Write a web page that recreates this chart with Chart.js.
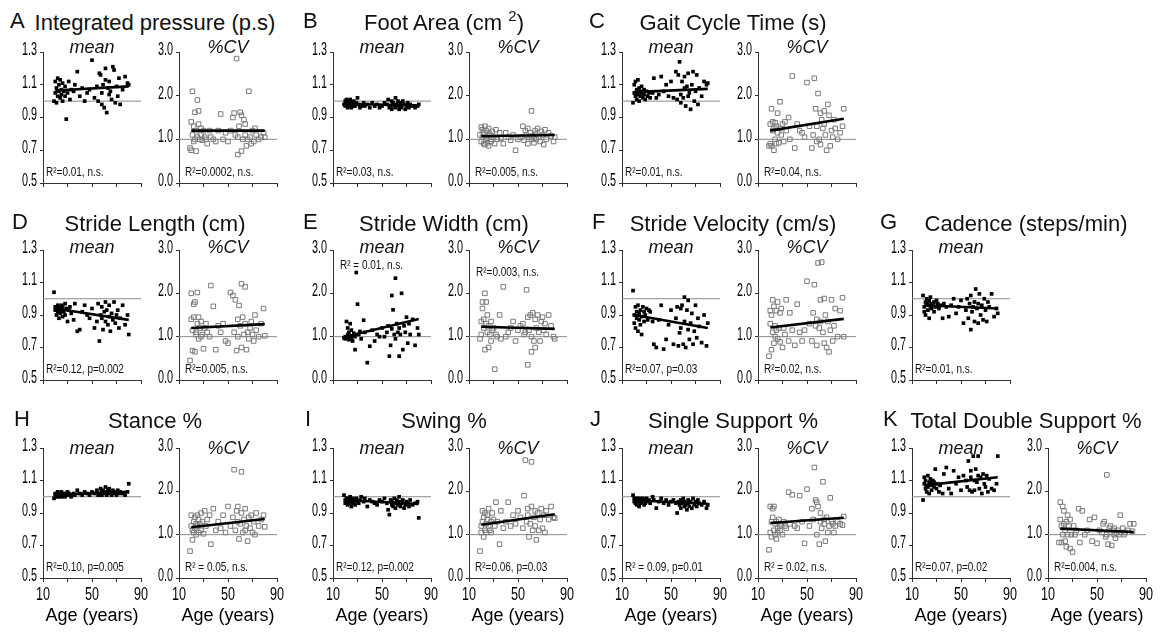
<!DOCTYPE html>
<html><head><meta charset="utf-8">
<script src="https://cdn.jsdelivr.net/npm/chart.js@4.4.1/dist/chart.umd.min.js"></script>
<style>
html,body{margin:0;padding:0;background:#fff;}
#fig{position:relative;width:1167px;height:635px;overflow:hidden;font-family:'Liberation Sans',Arial,sans-serif;color:#111;}
canvas{position:absolute;}
.t{position:absolute;white-space:nowrap;line-height:1;}
.n{transform:scaleX(0.8);transform-origin:0 0;}
sup{line-height:0;font-size:15px;vertical-align:9px;}
</style></head><body><div id="fig"></div>
<script>
// ---------------- DATA ----------------
const ages = [19,20,20,21,21,22,22,23,23,24,24,25,25,26,26,27,28,28,29,30,31,32,33,
  35,36,38,40,42,44,46,48,50,52,
  54,55,56,57,58,58,59,60,61,61,62,63,64,64,65,66,67,68,69,70,71,72,73,75,77,79,80];

const meanA = [1.00,1.05,1.12,0.99,1.08,1.14,1.03,1.10,1.06,1.13,1.02,1.07,1.04,1.11,1.00,1.06,1.03,1.09,0.89,1.05,1.12,1.01,1.07,
  1.06,1.10,1.18,1.03,1.08,1.00,1.05,1.07,1.25,1.02,
  1.09,1.00,1.17,1.16,0.98,1.05,1.10,0.96,1.13,1.20,0.93,1.08,1.04,1.12,1.06,1.01,1.21,1.19,0.99,1.09,1.03,1.14,0.98,1.07,1.15,1.11,1.10];
const cvA = [0.80,1.40,0.75,1.10,2.10,0.95,1.30,1.00,1.62,1.20,0.73,1.05,1.90,1.35,1.65,1.00,1.25,1.10,0.98,1.20,1.05,1.00,0.90,
  1.20,1.05,1.00,0.95,1.20,1.58,1.00,1.15,0.95,1.20,
  1.50,1.60,1.10,2.85,1.05,0.65,1.30,1.62,0.73,1.55,1.00,1.45,1.10,1.35,0.85,1.00,2.10,1.05,0.90,1.20,0.95,1.25,1.10,1.00,1.05,1.15,1.05];

const meanB = [0.98,1.00,0.97,1.01,0.99,0.96,0.98,1.00,0.97,0.99,1.01,0.98,0.96,0.99,0.97,1.00,0.98,0.97,0.99,1.02,0.98,0.96,0.97,
  0.99,0.97,0.98,0.96,0.99,0.97,0.98,0.96,0.97,0.99,
  0.98,1.01,0.96,0.97,1.00,0.95,0.99,0.97,1.02,0.96,0.98,1.00,0.95,0.97,0.99,0.96,1.00,0.98,0.95,0.97,0.99,0.96,0.98,0.97,0.96,0.97,0.98];
const cvB = [1.10,1.28,0.95,1.22,1.05,0.90,1.15,1.30,0.88,1.00,1.20,0.92,1.08,1.25,0.85,1.12,1.00,0.95,1.18,1.05,0.90,1.22,1.00,
  1.15,1.02,0.90,1.15,1.05,0.98,1.10,0.75,1.00,1.05,
  1.30,0.98,1.20,1.10,0.90,1.25,1.05,1.15,1.00,1.65,1.08,0.92,1.20,1.12,1.00,1.25,1.05,0.95,1.18,1.10,0.88,1.22,1.00,1.15,1.08,0.95,1.05];

const meanC = [0.99,1.05,1.10,1.03,1.12,1.07,1.01,1.13,1.04,1.08,1.00,1.06,1.03,1.09,1.05,1.02,1.07,1.04,1.01,1.06,1.03,1.05,1.02,
  1.05,1.14,1.02,1.04,1.15,1.06,1.10,1.03,1.12,1.02,
  1.18,1.01,1.16,1.24,1.04,0.99,1.12,1.02,1.08,1.15,0.97,1.09,1.03,1.17,1.05,0.95,1.10,1.18,1.00,1.06,1.16,0.98,1.08,1.03,1.12,1.10,1.11];
const cvC = [0.85,1.35,0.90,1.70,0.85,1.20,1.40,0.75,1.25,1.00,1.38,0.90,1.30,1.15,1.60,0.92,1.25,1.86,1.10,1.35,0.95,1.40,1.20,
  1.50,1.00,2.45,0.80,1.35,1.20,1.15,1.05,2.30,1.30,
  0.80,1.10,2.40,1.70,0.95,1.30,2.05,1.00,1.60,0.88,1.45,1.25,1.65,1.35,1.10,0.75,1.80,1.55,0.85,1.20,1.05,1.45,1.25,1.00,1.15,1.30,1.70];

const meanD = [1.04,0.93,0.95,0.90,0.94,0.96,0.92,0.88,0.95,0.93,0.91,0.96,0.94,0.89,0.95,0.92,0.97,0.90,0.94,0.86,0.93,0.95,0.91,
  0.87,0.97,0.80,0.81,0.92,0.96,0.90,0.88,0.94,0.82,
  0.86,0.97,0.74,0.90,0.88,0.95,0.81,0.92,0.98,0.86,0.93,0.84,0.89,0.96,0.80,0.91,0.87,0.98,0.85,0.90,0.93,0.82,0.88,0.96,0.84,0.90,0.78];
const cvD = [0.45,1.40,2.00,0.68,1.15,1.75,1.45,0.65,1.80,1.10,1.05,2.02,1.30,0.95,1.45,1.20,1.00,1.35,1.05,0.72,1.20,1.30,1.10,
  1.00,2.18,1.70,0.70,1.25,1.10,1.30,0.90,0.85,2.02,
  1.95,1.10,1.85,0.68,1.40,1.00,1.72,1.25,2.22,0.75,1.45,1.05,2.15,1.30,0.70,1.10,0.95,1.20,1.35,1.05,0.90,1.50,1.15,1.00,1.30,1.65,1.02];

const meanE = [0.97,1.00,0.95,1.35,0.98,1.05,1.20,0.93,1.10,1.00,1.30,0.96,1.15,1.02,0.90,1.08,1.00,0.70,2.48,1.75,1.05,1.12,0.95,
  1.38,1.10,0.40,0.78,1.15,0.90,1.05,1.00,1.20,1.00,
  1.10,1.25,0.55,0.80,1.18,1.95,1.62,1.05,2.35,0.95,1.30,1.10,0.55,1.20,1.05,2.00,0.70,1.25,1.10,1.45,0.85,1.30,1.05,1.40,0.80,1.20,1.05];
const cvE = [0.95,1.35,1.05,1.65,1.80,1.20,1.40,2.00,0.70,1.30,1.80,1.10,1.50,0.75,1.25,1.05,1.35,0.90,1.15,1.20,0.25,1.05,1.00,
  1.50,0.95,2.15,1.00,1.10,1.20,1.35,0.90,1.15,1.25,
  1.30,1.05,1.10,2.08,0.35,1.45,1.15,1.50,0.65,1.00,1.55,0.90,1.40,0.75,1.20,1.50,1.10,0.90,1.35,1.45,1.15,1.30,1.05,1.50,1.25,1.00,0.95];

const meanF = [1.05,0.90,0.85,0.95,0.82,0.92,0.88,0.80,0.96,0.87,0.91,0.84,0.93,0.78,0.89,0.95,0.86,0.92,0.90,0.94,0.87,0.93,0.92,
  0.86,0.72,0.70,0.87,0.96,0.69,0.75,0.84,0.93,0.72,
  0.88,0.95,0.71,0.79,0.94,0.82,0.96,0.72,0.86,1.01,0.70,0.93,0.81,0.99,0.75,0.85,0.91,0.72,0.80,0.96,0.76,0.88,0.83,0.73,0.90,0.71,0.85];
const cvF = [0.55,1.30,1.60,0.70,1.50,1.85,1.10,0.85,1.70,1.25,1.00,1.60,1.15,1.80,0.95,1.20,1.55,0.88,1.65,0.75,1.20,1.05,1.85,
  0.90,1.55,1.15,0.80,1.75,1.10,0.90,1.15,2.28,1.30,
  0.90,1.55,2.20,1.25,0.80,1.40,2.70,1.20,1.85,1.35,2.72,1.10,0.85,1.88,1.50,0.75,1.35,0.65,1.15,1.85,0.90,1.25,1.65,1.00,1.60,1.90,1.00];

const meanG = [1.02,0.95,0.92,0.98,0.90,0.96,1.00,0.93,0.97,0.88,0.99,0.95,1.01,0.94,0.97,0.96,0.98,0.92,0.95,0.99,0.97,0.94,0.96,
  0.88,0.97,0.95,0.89,0.96,1.00,0.91,0.95,0.99,0.85,
  0.93,1.00,0.88,0.97,0.81,1.02,0.92,0.95,0.98,0.86,1.06,0.94,0.97,0.85,1.03,0.90,0.96,0.87,1.00,0.93,0.86,0.98,0.95,1.03,0.89,0.94,0.91];

const meanH = [0.99,1.01,1.02,1.00,1.01,1.03,1.00,1.02,1.01,1.00,1.02,1.01,1.03,1.00,1.02,1.01,1.00,1.02,1.01,1.03,1.02,1.01,1.00,
  1.02,1.01,1.04,1.02,1.01,1.03,1.02,1.01,1.03,1.02,
  1.04,1.01,1.02,1.05,1.03,1.01,1.04,1.02,1.06,1.03,1.01,1.04,1.02,1.05,1.03,1.01,1.04,1.02,1.03,1.01,1.04,1.02,1.03,1.02,1.01,1.03,1.08];
const cvH = [0.62,1.20,1.45,1.10,0.88,1.30,1.05,1.40,1.15,1.25,1.00,1.45,1.20,1.35,1.05,1.25,1.50,1.10,1.30,1.02,1.55,1.20,1.35,
  1.45,0.78,1.60,1.10,1.30,1.15,1.45,1.05,1.65,1.20,
  1.40,2.50,1.10,1.55,1.30,1.65,0.90,1.25,2.45,1.50,1.05,1.35,1.10,1.60,1.20,0.85,1.40,1.15,1.45,1.05,1.30,1.00,1.50,1.20,1.35,1.45,1.18];

const meanI = [1.01,0.98,0.96,0.99,0.97,0.95,0.99,0.98,0.96,1.00,0.97,0.94,0.98,0.99,0.96,0.97,0.98,0.95,0.99,0.97,0.96,0.98,1.00,
  0.97,0.99,0.94,0.98,0.97,0.96,0.95,0.98,0.97,0.99,
  0.96,0.92,0.89,0.98,0.95,0.97,0.94,0.99,0.96,0.93,0.98,0.95,0.97,1.00,0.94,0.96,0.98,0.93,0.95,0.97,0.96,0.94,0.98,0.95,0.96,0.97,0.87];
const cvI = [0.62,1.20,1.05,1.55,1.30,0.95,1.40,1.10,1.50,1.25,1.05,1.45,1.35,1.20,1.60,1.10,1.30,1.05,1.50,1.35,1.20,1.75,1.30,
  0.78,1.55,1.15,1.30,1.75,1.20,1.45,1.25,1.55,1.40,
  1.15,1.90,2.72,1.30,1.60,1.45,0.95,1.25,2.68,1.65,1.10,1.40,1.55,1.20,0.88,1.50,1.10,1.35,1.60,1.15,1.45,1.05,1.55,1.35,1.65,1.40,1.38];

const meanJ = [1.01,0.97,0.99,0.96,0.98,0.95,0.99,0.97,0.98,0.94,0.99,0.97,0.96,0.98,0.97,0.99,0.95,0.98,0.96,0.99,0.97,0.98,0.96,
  1.00,0.98,0.93,0.97,0.99,0.96,0.98,0.95,0.97,0.98,
  0.96,0.90,0.97,0.95,0.98,0.93,0.96,0.99,0.94,0.97,0.95,0.92,0.98,0.96,0.94,0.97,0.93,0.99,0.95,0.97,0.94,0.98,0.96,0.95,0.97,0.93,0.95];
const cvJ = [0.65,1.05,1.65,1.30,0.95,1.60,1.40,1.10,1.65,1.00,1.25,1.30,0.90,1.15,1.05,1.35,1.20,1.10,1.25,1.00,1.30,1.20,1.15,
  1.98,1.25,1.92,1.20,1.15,1.90,1.30,0.80,2.05,1.20,
  1.60,1.35,2.55,1.80,1.00,1.75,1.65,0.78,1.30,1.50,1.15,2.22,1.35,1.25,0.85,1.40,1.05,1.20,1.85,1.30,1.25,1.05,1.20,1.30,1.25,1.22,1.42];

const meanK = [0.98,1.08,1.12,1.05,1.10,1.03,1.07,1.13,1.06,1.09,1.02,1.11,1.08,1.04,1.07,1.10,1.06,1.09,1.17,1.05,1.08,1.03,1.07,
  1.02,1.14,1.18,1.05,1.02,1.16,1.08,1.12,1.04,1.13,
  1.10,1.06,1.22,1.04,1.12,1.16,1.03,1.25,1.10,1.04,1.17,1.09,1.13,1.25,1.05,1.12,1.02,1.14,1.08,1.06,1.13,1.03,1.11,1.05,1.04,1.08,1.25];
const cvK = [0.82,1.35,1.75,0.82,1.20,1.65,1.00,1.25,1.55,0.85,1.10,1.30,0.72,1.45,1.00,1.20,0.68,1.35,1.00,0.60,1.20,1.00,1.10,
  1.60,0.82,1.55,1.00,1.10,1.35,0.85,1.40,0.80,1.10,
  1.05,1.25,1.30,0.95,1.00,2.38,0.78,1.15,1.20,1.05,0.75,1.10,1.00,1.15,0.92,1.05,1.10,1.00,1.45,1.05,1.15,1.00,1.05,1.10,1.25,1.08,1.25];

// regression lines (value at fitAges[0], value at fitAges[1])
const fitAges = [20, 80];
const fitMeanA = [1.065, 1.09],  fitCvA = [1.20, 1.20];
const fitMeanB = [0.982, 0.975], fitCvB = [1.07, 1.10];
const fitMeanC = [1.055, 1.075], fitCvC = [1.20, 1.47];
const fitMeanD = [0.94, 0.87],   fitCvD = [1.20, 1.29];
const fitMeanE = [1.00, 1.41],   fitCvE = [1.23, 1.18];
const fitMeanF = [0.90, 0.82],   fitCvF = [1.21, 1.41];
const fitMeanG = [0.96, 0.94];
const fitMeanH = [1.013, 1.03],  fitCvH = [1.17, 1.36];
const fitMeanI = [0.98, 0.955],  fitCvI = [1.23, 1.47];
const fitMeanJ = [0.978, 0.957], fitCvJ = [1.27, 1.39];
const fitMeanK = [1.07, 1.12],   fitCvK = [1.14, 1.06];

const refLevel = 1.0;
const meanAxis = [0.5, 1.3, 0.2];   // min, max, step
const cvAxis = [0.0, 3.0, 1.0];
const ageAxis = [10, 90, 20];
const ageLabels = [10, 50, 90];

// ---------------- LAYOUT ----------------
const SANS = "'Liberation Sans', Arial, sans-serif";
const COLS = [[43,179],[333,469],[622,758],[912,1048]];
const ROWS = [
  {top:52, h:131, title:31, letter:29, sub:53},
  {top:250, h:130, title:232, letter:230, sub:253},
  {top:448, h:130, title:429, letter:427, sub:454}
];
const TITLE_CX = [155, 444, 733, 1026];
const PLOT_W = 98;

// linear scale whose tick labels are drawn horizontally condensed (narrow face look)
class NarrowLinearScale extends Chart.LinearScale {
  drawLabels(chartArea) {
    const ctx = this.ctx;
    const squeeze = this.options.ticks.squeeze || 1;
    const shift = this.options.ticks.shiftY || 0;
    const items = this.getLabelItems(chartArea);
    for (const it of items) {
      const o = it.options;
      const tr = o.translation || [0, 0];
      ctx.save();
      ctx.translate(tr[0], tr[1] + shift);
      ctx.scale(squeeze, 1);
      ctx.font = it.font.string;
      ctx.fillStyle = o.color;
      ctx.textAlign = o.textAlign;
      ctx.textBaseline = o.textBaseline;
      const lbl = Array.isArray(it.label) ? it.label.join(' ') : it.label;
      ctx.fillText(lbl, 0, it.textOffset);
      ctx.restore();
    }
  }
}
NarrowLinearScale.id = 'narrowLinear';
NarrowLinearScale.defaults = Chart.LinearScale.defaults;
Chart.register(NarrowLinearScale);

const panels = [
  {L:'A', T:'Integrated pressure (p.s)', r:0, c:0, lx:10,  m:meanA, v:cvA, fm:fitMeanA, fv:fitCvA, rm:'R²=0.01, n.s.', rv:'R²=0.0002, n.s.'},
  {L:'B', T:'Foot Area (cm <sup>2</sup>)', r:0, c:1, lx:303, m:meanB, v:cvB, fm:fitMeanB, fv:fitCvB, rm:'R²=0.03, n.s.', rv:'R²=0.005, n.s.'},
  {L:'C', T:'Gait Cycle Time (s)', r:0, c:2, lx:589, m:meanC, v:cvC, fm:fitMeanC, fv:fitCvC, rm:'R²=0.01, n.s.', rv:'R²=0.04, n.s.'},
  {L:'D', T:'Stride Length (cm)', r:1, c:0, lx:12,  m:meanD, v:cvD, fm:fitMeanD, fv:fitCvD, rm:'R²=0.12, p=0.002', rv:'R²=0.005, n.s.'},
  {L:'E', T:'Stride Width (cm)', r:1, c:1, lx:303, m:meanE, v:cvE, fm:fitMeanE, fv:fitCvE, rm:'R² = 0.01, n.s.', rv:'R²=0.003, n.s.', meanOnCv:true, topText:true},
  {L:'F', T:'Stride Velocity (cm/s)', r:1, c:2, lx:592, m:meanF, v:cvF, fm:fitMeanF, fv:fitCvF, rm:'R²=0.07, p=0.03', rv:'R²=0.02, n.s.'},
  {L:'G', T:'Cadence (steps/min)', r:1, c:3, lx:880, m:meanG, v:null, fm:fitMeanG, fv:null, rm:'R²=0.01, n.s.'},
  {L:'H', T:'Stance %', r:2, c:0, lx:14,  m:meanH, v:cvH, fm:fitMeanH, fv:fitCvH, rm:'R²=0.10, p=0.005', rv:'R² = 0.05, n.s.'},
  {L:'I', T:'Swing %', r:2, c:1, lx:305, m:meanI, v:cvI, fm:fitMeanI, fv:fitCvI, rm:'R²=0.12, p=0.002', rv:'R²=0.06, p=0.03'},
  {L:'J', T:'Single Support %', r:2, c:2, lx:590, m:meanJ, v:cvJ, fm:fitMeanJ, fv:fitCvJ, rm:'R² = 0.09, p=0.01', rv:'R² = 0.02, n.s.'},
  {L:'K', T:'Total Double Support %', r:2, c:3, lx:883, m:meanK, v:cvK, fm:fitMeanK, fv:fitCvK, rm:'R²=0.07, p=0.02', rv:'R²=0.004, n.s.'}
];

const FIG = document.getElementById('fig');
function addText(html, x, baseline, size, opt) {
  opt = opt || {};
  const d = document.createElement('div');
  d.className = 't' + (opt.narrow ? ' n' : '');
  d.style.fontSize = size + 'px';
  d.style.fontFamily = SANS;
  if (opt.italic) d.style.fontStyle = 'italic';
  d.style.top = (baseline - 0.8465 * size) + 'px';
  if (opt.align === 'center') {
    d.style.left = (x - 200) + 'px'; d.style.width = '400px'; d.style.textAlign = 'center';
  } else d.style.left = x + 'px';
  d.innerHTML = html;
  FIG.appendChild(d);
}

function makeChart(x0, y0, h, bottomRow, axis, values, fit, hollow) {
  const padT = 20, padR = 15, yW = 45, xH = bottomRow ? 49 : 16;
  const cw = yW + PLOT_W + padR, ch = padT + h + xH;
  const cv = document.createElement('canvas');
  cv.width = cw; cv.height = ch;
  cv.style.left = (x0 - yW) + 'px'; cv.style.top = (y0 - padT) + 'px';
  cv.style.width = cw + 'px'; cv.style.height = ch + 'px';
  FIG.appendChild(cv);
  new Chart(cv, {
    type: 'scatter',
    data: { datasets: [
      { type:'line', data: fitAges.map((a,i)=>({x:a, y:fit[i]})), borderColor:'#000', borderWidth:2.6, pointRadius:0, fill:false },
      { data: ages.map((a,i)=>({x:a, y:values[i]})), pointStyle:'rect',
        pointRadius: hollow ? 3.2 : 2.6,
        backgroundColor: hollow ? 'rgba(255,255,255,0)' : '#000',
        borderColor: hollow ? '#7a7a7a' : '#000', borderWidth: hollow ? 1 : 0 },
      { type:'line', data: [{x:ageAxis[0], y:refLevel},{x:ageAxis[1], y:refLevel}], borderColor:'#8a8a8a', borderWidth:1, pointRadius:0, fill:false }
    ]},
    options: {
      responsive:false, animation:false, devicePixelRatio:1,
      layout:{ padding:{ top:padT, right:padR, left:0, bottom:0 } },
      plugins:{ legend:{display:false}, tooltip:{enabled:false} },
      events: [],
      scales: {
        x: { type:'narrowLinear', min:ageAxis[0], max:ageAxis[1],
          afterFit: s => { s.height = xH; },
          ticks: { stepSize:ageAxis[2], autoSkip:false, maxRotation:0, padding:2, color:'#000', squeeze:0.7,
            font:{ family:SANS, size:18 },
            callback: v => (bottomRow && ageLabels.includes(v)) ? String(v) : '' },
          grid: { drawOnChartArea:false, drawTicks:true, tickLength:4, color:'#333', lineWidth:1 },
          border: { display:true, color:'#333', width:1 },
          title: { display:bottomRow, text:'Age (years)', color:'#000', padding:0, font:{ family:SANS, size:18 } }
        },
        y: { type:'narrowLinear', min:axis[0], max:axis[1],
          afterFit: s => { s.width = yW; },
          ticks: { stepSize:axis[2], padding:3, color:'#000', squeeze:0.6, shiftY:-2, font:{ family:SANS, size:18 },
            callback: v => Number(v).toFixed(1) },
          grid: { drawOnChartArea:false, drawTicks:true, tickLength:3, color:'#333', lineWidth:1 },
          border: { display:true, color:'#333', width:1 }
        }
      }
    }
  });
}

panels.forEach(p => {
  const R = ROWS[p.r], C = COLS[p.c];
  const bottom = p.r === 2;
  addText(p.L, p.lx, R.letter, 22);
  addText(p.T, TITLE_CX[p.c], R.title, 22, {align:'center'});
  makeChart(C[0], R.top, R.h, bottom, p.meanOnCv ? cvAxis : meanAxis, p.m, p.fm, false);
  addText('mean', C[0] + PLOT_W/2, R.sub, 18, {align:'center', italic:true});
  if (p.topText) addText(p.rm, C[0] + 7, R.top + 20, 12.5, {narrow:true});
  else addText(p.rm, C[0] + 3, R.top + R.h - 6, 12.5, {narrow:true});
  if (p.v) {
    makeChart(C[1], R.top, R.h, bottom, cvAxis, p.v, p.fv, true);
    addText('%CV', C[1] + PLOT_W/2, R.sub, 18, {align:'center', italic:true});
    if (p.topText) addText(p.rv, C[1] + 7, R.top + 27, 12.5, {narrow:true});
    else addText(p.rv, C[1] + 6, R.top + R.h - 6, 12.5, {narrow:true});
  }
});
</script>
</body></html>
